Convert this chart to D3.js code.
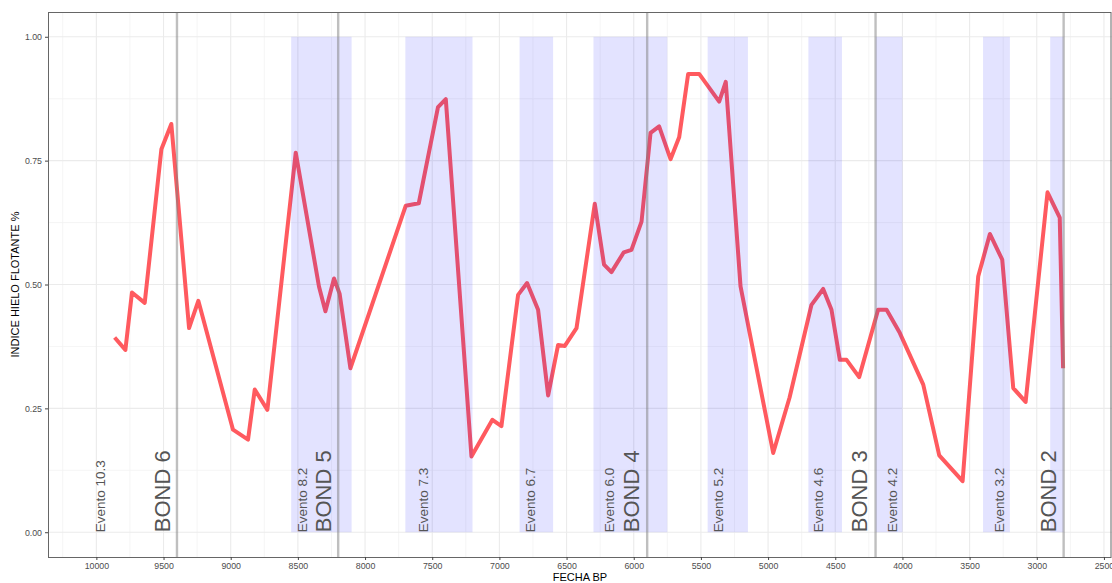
<!DOCTYPE html>
<html>
<head>
<meta charset="utf-8">
<script src="https://cdn.jsdelivr.net/npm/d3@7/dist/d3.min.js"></script>
<style>
  html, body { margin: 0; padding: 0; background: #fff; }
  svg { display: block; font-family: "Liberation Sans", Arial, sans-serif; }
</style>
</head>
<body>
<svg id="chart" width="1112" height="583"></svg>
<script>
// ---- data ----
const years = [9864, 9784, 9735, 9640, 9516, 9442, 9310, 9241, 8983, 8871, 8821, 8727, 8516, 8343, 8295, 8231, 8189, 8109,
  7697, 7600, 7457, 7399, 7208, 7052, 6985, 6861, 6794, 6712, 6637, 6563, 6513, 6426, 6290, 6221, 6166, 6074, 6017, 5942,
  5875, 5811, 5726, 5662, 5595, 5513, 5364, 5315, 5205, 4962, 4840, 4677, 4590, 4528, 4466, 4416, 4322, 4181, 4118, 4019,
  3845, 3726, 3552, 3436, 3349, 3257, 3175, 3083, 2920, 2829, 2804];
const iceIndex = [0.393, 0.368, 0.484, 0.463, 0.773, 0.824, 0.412, 0.467, 0.207, 0.187, 0.288, 0.247, 0.766, 0.496, 0.446, 0.512, 0.481, 0.331,
  0.659, 0.664, 0.858, 0.874, 0.153, 0.227, 0.214, 0.479, 0.503, 0.449, 0.276, 0.378, 0.376, 0.412, 0.663, 0.540, 0.525, 0.565, 0.570, 0.627,
  0.806, 0.819, 0.753, 0.797, 0.925, 0.925, 0.869, 0.909, 0.496, 0.160, 0.272, 0.459, 0.491, 0.449, 0.348, 0.348, 0.313, 0.449, 0.449, 0.402,
  0.298, 0.155, 0.103, 0.516, 0.602, 0.550, 0.291, 0.263, 0.686, 0.635, 0.331];

const bandStart = [8550, 7700, 6850, 6300, 5450, 4700, 4200, 3400, 2900];
const bandEnd   = [8100, 7200, 6600, 5750, 5150, 4450, 4000, 3200, 2800];

const eventNames = ["Evento 10.3", "Evento 8.2", "Evento 7.3", "Evento 6.7", "Evento 6.0", "Evento 5.2", "Evento 4.6", "Evento 4.2", "Evento 3.2"];
const eventX     = [9968, 8466, 7568, 6769, 6178, 5372, 4622, 4073, 3275];

const bondNames = ["BOND 6", "BOND 5", "BOND 4", "BOND 3", "BOND 2"];
const bondLineX = [9400, 8200, 5900, 4200, 2800];
const bondLabelX = [9504, 8313, 6017, 4317, 2915];

const xLimits = [10000, 2800];
const yLimits = [0, 1];
const xTicks = [10000, 9500, 9000, 8500, 8000, 7500, 7000, 6500, 6000, 5500, 5000, 4500, 4000, 3500, 3000, 2500];
const yTicks = [0, 0.25, 0.5, 0.75, 1.0];

// ---- layout ----
const svg = d3.select("#chart");
const panel = { left: 48, top: 12, right: 1112, bottom: 557 };

const xr = xLimits[0] - xLimits[1];
const x = d3.scaleLinear()
  .domain([xLimits[0] + 0.05 * xr, xLimits[1] - 0.05 * xr])
  .range([panel.left, panel.right]);
const y = d3.scaleLinear()
  .domain([yLimits[0] - 0.05, yLimits[1] + 0.05])
  .range([panel.bottom, panel.top]);

svg.append("defs").append("clipPath").attr("id", "clip")
  .append("rect").attr("x", panel.left).attr("y", panel.top)
  .attr("width", panel.right - panel.left).attr("height", panel.bottom - panel.top);

const g = svg.append("g").attr("clip-path", "url(#clip)");

// minor grid
const xMinor = d3.range(10250, 2300, -500);
const yMinor = [0.125, 0.375, 0.625, 0.875];
g.selectAll(".xminor").data(xMinor).join("line")
  .attr("x1", d => x(d)).attr("x2", d => x(d))
  .attr("y1", panel.top).attr("y2", panel.bottom)
  .attr("stroke", "#f3f3f3").attr("stroke-width", 0.8);
g.selectAll(".yminor").data(yMinor).join("line")
  .attr("y1", d => y(d)).attr("y2", d => y(d))
  .attr("x1", panel.left).attr("x2", panel.right)
  .attr("stroke", "#f3f3f3").attr("stroke-width", 0.8);
// major grid
g.selectAll(".xmajor").data(xTicks).join("line")
  .attr("x1", d => x(d)).attr("x2", d => x(d))
  .attr("y1", panel.top).attr("y2", panel.bottom)
  .attr("stroke", "#ebebeb").attr("stroke-width", 1.1);
g.selectAll(".ymajor").data(yTicks).join("line")
  .attr("y1", d => y(d)).attr("y2", d => y(d))
  .attr("x1", panel.left).attr("x2", panel.right)
  .attr("stroke", "#ebebeb").attr("stroke-width", 1.1);

// data line
const pts = years.map((yr, i) => [yr, iceIndex[i]]);
g.append("path").datum(pts)
  .attr("fill", "none")
  .attr("stroke", "#ff5a5f")
  .attr("stroke-width", 4)
  .attr("stroke-linejoin", "round")
  .attr("stroke-linecap", "butt")
  .attr("d", d3.line().x(d => x(d[0])).y(d => y(d[1])));

// bands
g.selectAll(".band").data(bandStart.map((s, i) => [s, bandEnd[i]])).join("rect")
  .attr("x", d => x(d[0]))
  .attr("width", d => x(d[1]) - x(d[0]))
  .attr("y", y(1)).attr("height", y(0) - y(1))
  .attr("fill", "#0000ff").attr("fill-opacity", 0.11);

// bond lines
g.selectAll(".bond").data(bondLineX).join("line")
  .attr("x1", d => x(d)).attr("x2", d => x(d))
  .attr("y1", panel.top).attr("y2", panel.bottom)
  .attr("stroke", "#808080").attr("stroke-opacity", 0.5).attr("stroke-width", 2.4);

// event labels
g.selectAll(".evt").data(eventNames.map((t, i) => [t, eventX[i]])).join("text")
  .attr("transform", d => `translate(${x(d[1])},${y(0)}) rotate(-90)`)
  .attr("text-anchor", "start")
  .attr("dominant-baseline", "central")
  .attr("font-size", 13.5)
  .attr("fill", "#555")
  .text(d => d[0]);

g.selectAll(".bondlbl").data(bondNames.map((t, i) => [t, bondLabelX[i]])).join("text")
  .attr("transform", d => `translate(${x(d[1])},${y(0)}) rotate(-90)`)
  .attr("text-anchor", "start")
  .attr("dominant-baseline", "central")
  .attr("font-size", 22)
  .attr("fill", "#555")
  .text(d => d[0]);

// panel border
svg.append("rect")
  .attr("x", panel.left + 0.5).attr("y", panel.top + 0.5)
  .attr("width", panel.right - panel.left - 1.5).attr("height", panel.bottom - panel.top)
  .attr("fill", "none").attr("stroke", "#666").attr("stroke-width", 1);

// axes
const xAxis = d3.axisBottom(x).tickValues(xTicks).tickSize(3).tickPadding(3).tickFormat(d3.format("d"));
const xg = svg.append("g").attr("transform", `translate(0,${panel.bottom})`).call(xAxis);
const yAxis = d3.axisLeft(y).tickValues(yTicks).tickSize(3).tickPadding(3).tickFormat(d3.format(".2f"));
const yg = svg.append("g").attr("transform", `translate(${panel.left},0)`).call(yAxis);
[xg, yg].forEach(a => {
  a.select(".domain").remove();
  a.selectAll(".tick line").attr("stroke", "#444");
  a.selectAll(".tick text").attr("fill", "#4d4d4d").attr("font-size", 8.8)
    .attr("font-family", "'Liberation Sans', Arial, sans-serif");
});

// titles
svg.append("text")
  .attr("x", (panel.left + panel.right) / 2).attr("y", 581)
  .attr("text-anchor", "middle").attr("font-size", 11).attr("fill", "#000")
  .text("FECHA BP");
svg.append("text")
  .attr("transform", `translate(19,${(panel.top + panel.bottom) / 2}) rotate(-90)`)
  .attr("text-anchor", "middle").attr("font-size", 11).attr("fill", "#000")
  .text("INDICE HIELO FLOTANTE %");
</script>
</body>
</html>
